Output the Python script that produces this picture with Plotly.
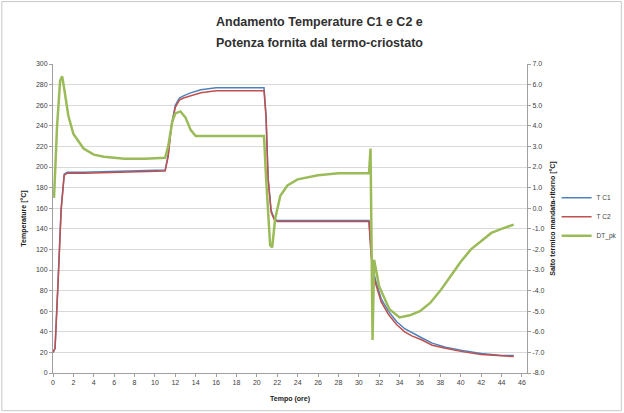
import plotly.graph_objects as go

# Temperature readings of the two cells (hours, °C)
time_temp = [0, 0.2, 0.5, 0.8, 1.1, 1.4, 3, 6, 9, 11, 11.3, 11.6, 12.0, 12.4, 12.8, 13.5,
             14.5, 16, 20.7, 20.9, 21.1, 21.4, 21.7, 22, 25, 31.0, 31.2, 31.4, 31.7,
             32.2, 32.9, 33.7, 34.5, 35.2, 36.2, 37.2, 38.5, 40, 42, 44, 45.2]
t_c1 = [20, 24, 90, 160, 193, 195, 195, 196, 197, 197, 212, 240, 260, 267, 269, 272,
        275, 277, 277, 250, 190, 158, 150, 148, 148, 148, 118, 100, 88,
        72, 60, 50, 43, 39, 34, 29, 25, 22, 19, 17, 17]
t_c2 = [20, 24, 88, 158, 192, 194, 194, 195, 196, 196, 210, 238, 258, 265, 267, 269,
        272, 274, 274, 248, 188, 156, 149, 147, 147, 147, 115, 97, 85,
        69, 57, 47, 40, 36, 32, 27, 24, 21, 18, 17, 16]

# Supply-return temperature difference of the cryostat (hours, °C)
time_dt = [0.1, 0.4, 0.7, 0.9, 1.1, 1.5, 2, 3, 4, 5, 7, 9, 11, 11.3, 11.7, 12.0, 12.5,
           13.0, 13.5, 14.0, 16, 20.7, 20.9, 21.1, 21.3, 21.5, 21.8, 22.3, 23, 24, 26,
           28, 31.0, 31.15, 31.35, 31.5, 32, 33, 34, 35, 36, 37, 38, 39, 40, 41, 42,
           43, 44, 45.2]
dt_pk = [0.5, 4.0, 6.2, 6.4, 5.8, 4.5, 3.6, 2.9, 2.6, 2.5, 2.4, 2.4, 2.45, 3.0, 4.2, 4.6,
         4.7, 4.4, 3.8, 3.5, 3.5, 3.5, 1.5, -0.5, -1.8, -1.9, -0.5, 0.6, 1.1, 1.4, 1.6,
         1.7, 1.7, 2.9, -6.4, -2.5, -3.8, -4.9, -5.3, -5.2, -5.0, -4.6, -4.0, -3.3,
         -2.6, -2.0, -1.6, -1.2, -1.0, -0.8]

left_ticks = list(range(0, 301, 20))
right_ticks = list(range(-8, 8))
x_ticks = list(range(0, 47, 2))

title_lines = ["Andamento Temperature C1 e C2 e", "Potenza fornita dal termo-criostato"]

tick_font = dict(family="Liberation Sans, Arial", size=7, color="#404040")
title_font = dict(family="Liberation Sans, Arial", size=7, color="#202020")
head_font = dict(family="Liberation Sans, Arial", size=12.5, color="#303030")

fig = go.Figure()
fig.add_trace(go.Scatter(x=time_temp, y=t_c1, name="T C1", mode="lines",
                         line=dict(color="#4F81BD", width=1.5)))
fig.add_trace(go.Scatter(x=time_temp, y=t_c2, name="T C2", mode="lines",
                         line=dict(color="#C0504D", width=1.5)))
fig.add_trace(go.Scatter(x=time_dt, y=dt_pk, name="DT_pk", mode="lines", yaxis="y2",
                         line=dict(color="#9BBB59", width=2.5)))

# two-line heading placed as separate annotations for Excel-like line spacing
for text, yp in zip(title_lines, [1.136, 1.068]):
    fig.add_annotation(text=f"<b>{text}</b>", xref="paper", yref="paper",
                       x=0.563, y=yp, xanchor="center", yanchor="middle",
                       showarrow=False, font=head_font)

fig.update_layout(
    width=624, height=413,
    margin=dict(l=53, r=97, t=64, b=40, autoexpand=False),
    paper_bgcolor="white", plot_bgcolor="white",
    showlegend=True,
    legend=dict(xref="container", yref="container", x=0.892, y=0.556,
                xanchor="left", yanchor="top",
                font=dict(family="Liberation Sans, Arial", size=6.5, color="#404040"),
                bgcolor="rgba(0,0,0,0)", itemwidth=30, tracegroupgap=0),
    xaxis=dict(range=[0, 46.5], tickvals=x_ticks, ticktext=[str(v) for v in x_ticks],
               showgrid=False, showline=True, linecolor="#A0A0A0", linewidth=1,
               ticks="outside", ticklen=3, tickcolor="#A0A0A0", tickfont=tick_font,
               zeroline=False, automargin=False,
               title=dict(text="<b>Tempo (ore)</b>", font=title_font, standoff=10)),
    yaxis=dict(range=[0, 300], tickvals=left_ticks, ticktext=[str(v) for v in left_ticks],
               showgrid=True, gridcolor="#D9D9D9", gridwidth=1,
               showline=True, linecolor="#A0A0A0", linewidth=1,
               ticks="outside", ticklen=3, tickcolor="#A0A0A0", tickfont=tick_font,
               zeroline=False, automargin=False,
               title=dict(text="<b>Temperature [°C]</b>", font=title_font, standoff=8)),
    yaxis2=dict(range=[-8, 7], overlaying="y", side="right",
                tickvals=right_ticks, ticktext=[f"{v:.1f}" for v in right_ticks],
                showgrid=False, showline=True, linecolor="#A0A0A0", linewidth=1,
                ticks="outside", ticklen=3, tickcolor="#A0A0A0", tickfont=tick_font,
                zeroline=False, automargin=False,
                title=dict(text="<b>Salto termico mandata-ritorno [°C]</b>",
                           font=title_font, standoff=8)),
    shapes=[dict(type="rect", xref="paper", yref="paper",
                 x0=-0.108, x1=1.199, y0=-0.122, y1=1.202,
                 line=dict(color="#C8C8C8", width=1), fillcolor="rgba(0,0,0,0)")],
)

fig.write_html("out.html")
